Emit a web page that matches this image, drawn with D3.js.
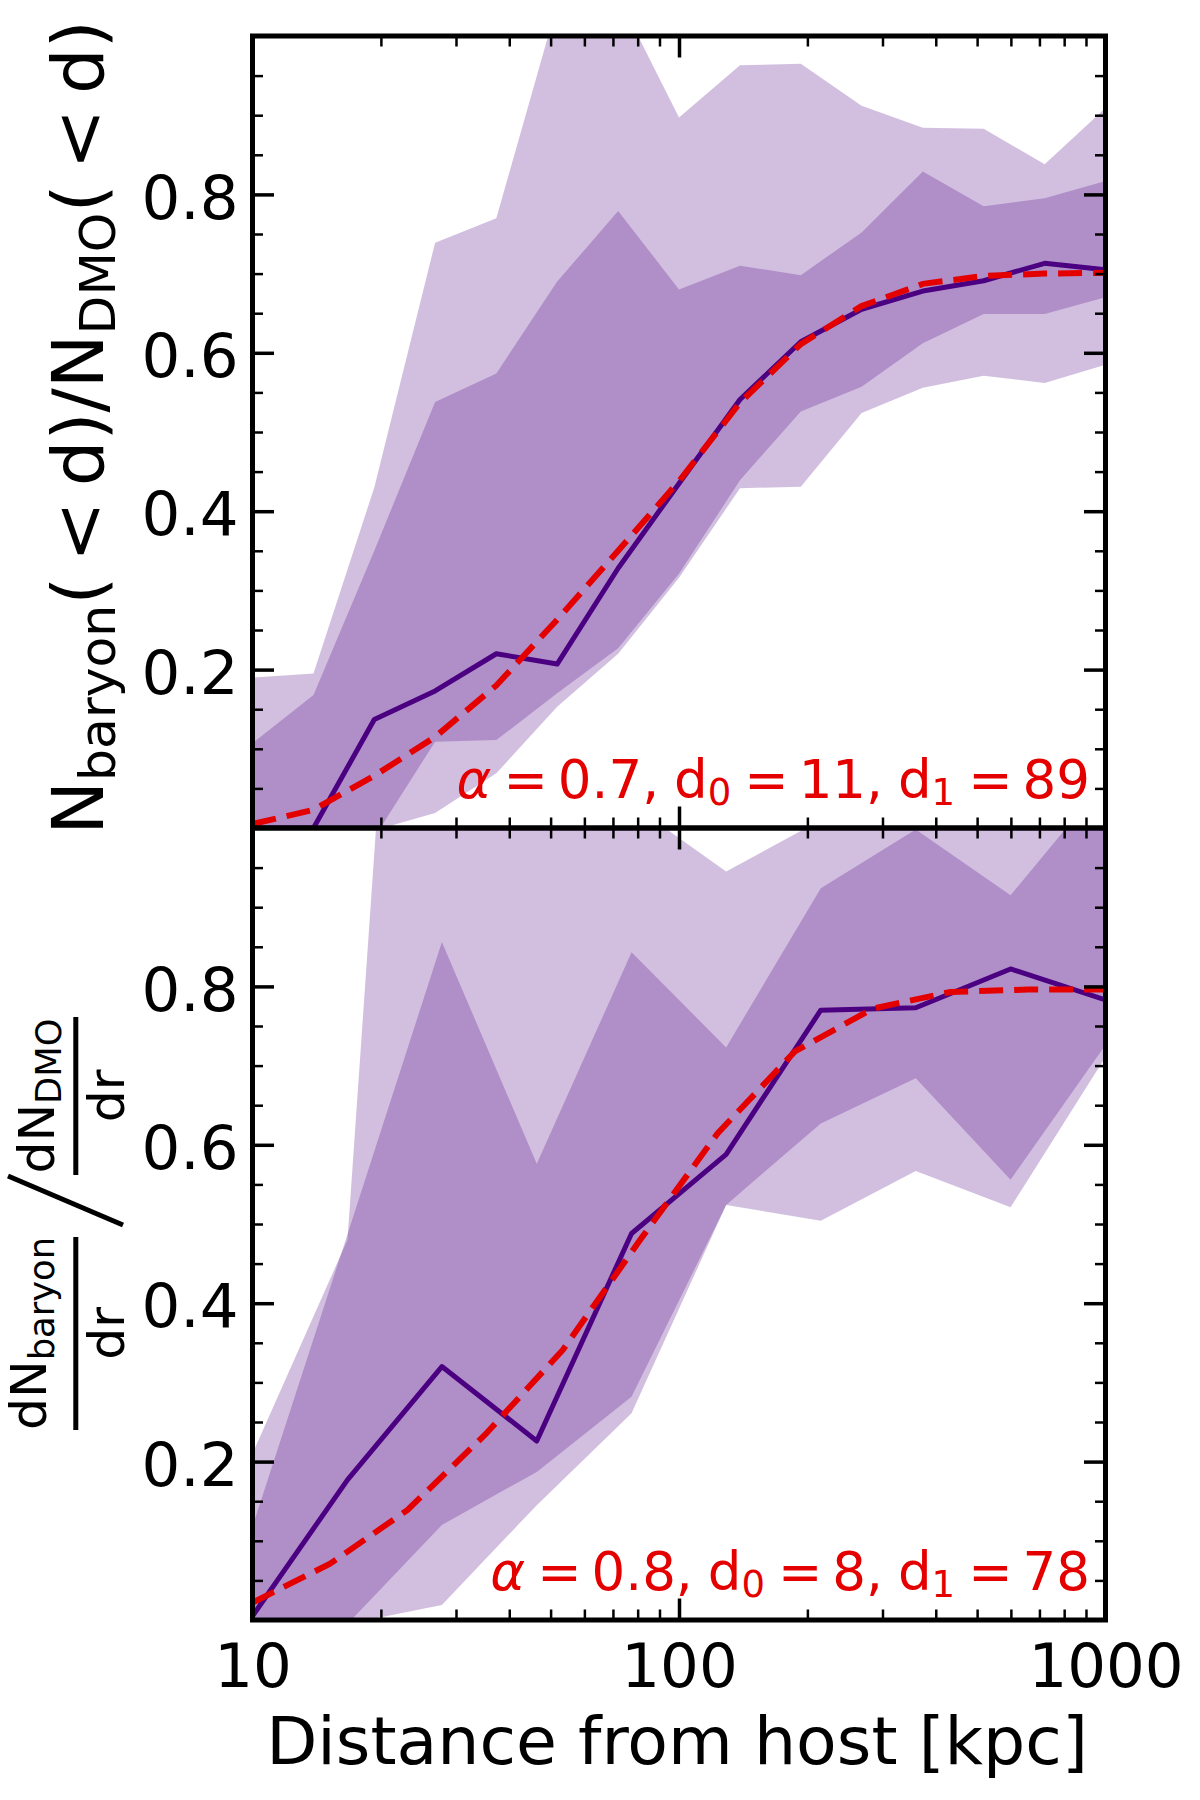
<!DOCTYPE html>
<html>
<head>
<meta charset="utf-8">
<title>baryon / DMO subhalo ratio</title>
<script src="https://cdn.jsdelivr.net/npm/d3@7"></script>
<style>
    body { margin: 0; background: #ffffff; }
    #chart svg { display: block; font-family: "DejaVu Sans", sans-serif; }
</style>
</head>
<body>
<div id="chart"></div>
<script>
//TOP PANEL: cumulative ratio N_baryon(<d) / N_DMO(<d)
const cumDistance = [10, 13.9, 19.3, 26.8, 37.3, 51.8, 72.0, 100, 139, 193, 268, 373, 518, 720, 1000];
const cumMedian = [0, 0, 0.137, 0.173, 0.220, 0.207, 0.328, 0.435, 0.541, 0.614, 0.655, 0.678, 0.691, 0.713, 0.705];
const cumInnerLow = [-0.03, -0.02, -0.012, 0.109, 0.111, 0.170, 0.227, 0.321, 0.439, 0.526, 0.557, 0.612, 0.649, 0.649, 0.670];
const cumInnerHigh = [0.107, 0.168, 0.350, 0.538, 0.574, 0.690, 0.779, 0.680, 0.710, 0.698, 0.752, 0.829, 0.785, 0.795, 0.817];
const cumOuterLow = [-0.1, -0.08, -0.003, 0.019, 0.069, 0.153, 0.220, 0.316, 0.429, 0.431, 0.524, 0.556, 0.571, 0.562, 0.585];
const cumOuterHigh = [0.190, 0.195, 0.430, 0.739, 0.770, 1.04, 1.05, 0.897, 0.963, 0.965, 0.912, 0.884, 0.883, 0.838, 0.909];
const cumFit = [0.005, 0.023, 0.066, 0.115, 0.180, 0.263, 0.350, 0.438, 0.537, 0.611, 0.659, 0.687, 0.697, 0.700, 0.701];
const cumFitParams = ["0.7", "11", "89"]; // alpha, d0, d1

//BOTTOM PANEL: differential ratio dN_baryon/dr / dN_DMO/dr
const diffDistance = [10, 16.7, 27.8, 46.4, 77.4, 129, 215, 359, 599, 1000];
const diffMedian = [0.005, 0.177, 0.320, 0.226, 0.488, 0.588, 0.770, 0.773, 0.822, 0.783];
const diffInnerLow = [-0.2, -0.005, 0.120, 0.187, 0.282, 0.524, 0.627, 0.684, 0.556, 0.726];
const diffInnerHigh = [0.118, 0.487, 0.856, 0.576, 0.843, 0.723, 0.924, 0.998, 0.915, 1.06];
const diffOuterLow = [-0.3, -0.005, 0.019, 0.145, 0.261, 0.524, 0.504, 0.567, 0.521, 0.711];
const diffOuterHigh = [0.210, 0.480, 2.2, 1.15, 1.03, 0.945, 1.01, 1.05, 1.03, 1.10];
const diffFitDistance = [10, 15.2, 23.1, 35.1, 53.4, 81.1, 123, 187, 285, 433, 658, 1000];
const diffFit = [0.022, 0.071, 0.139, 0.234, 0.341, 0.480, 0.614, 0.718, 0.772, 0.793, 0.796, 0.796];
const diffFitParams = ["0.8", "8", "78"];

//TICKS
const xMajorTicks = [10, 100, 1000];
const xMinorTicks = [20, 30, 40, 50, 60, 70, 80, 90, 200, 300, 400, 500, 600, 700, 800, 900];
const yMajorTicks = [0.2, 0.4, 0.6, 0.8];
const yMinorTicks = [0.05, 0.1, 0.15, 0.25, 0.3, 0.35, 0.45, 0.5, 0.55, 0.65, 0.7, 0.75, 0.85, 0.9, 0.95];

const dimensions = {
    width: 1200,
    height: 1800,
    left: 252.5,
    right: 1105.5,
    majorTick: 21.5,
    minorTick: 10.5,
    tickFont: 61,
}
const colors = { band: "#4b0082", median: "#4b0082", fit: "#e50000" }

const xScale = d3.scaleLog()
    .domain([10, 1000])
    .range([dimensions.left, dimensions.right])

const distAccessor = (d) => xScale(d.dist);

class RatioPanel {

    constructor(svg, id, top, bottom, data, showXLabels) {
        this.svg = svg;
        this.id = id;
        this.top = top;
        this.bottom = bottom;
        this.data = data;
        this.showXLabels = showXLabels;
        this.y = d3.scaleLinear().domain([0, 1]).range([bottom, top]);
    }

    render() {
        const y = this.y;
        const data = this.data;
        const rows = data.distance.map((d, i) => ({
            dist: d,
            median: data.median[i],
            innerLow: data.innerLow[i],
            innerHigh: data.innerHigh[i],
            outerLow: data.outerLow[i],
            outerHigh: data.outerHigh[i],
        }))
        const fitRows = data.fitDistance.map((d, i) => ({ dist: d, value: data.fit[i] }))

        //clip everything to the axes box
        const clipId = "clip-" + this.id;
        this.svg.append("clipPath")
            .attr("id", clipId)
            .append("rect")
            .attr("x", dimensions.left)
            .attr("y", this.top)
            .attr("width", dimensions.right - dimensions.left)
            .attr("height", this.bottom - this.top)

        const bounds = this.svg.append("g")
            .attr("clip-path", `url(#${clipId})`)

        //BANDS (same see-through colour twice, overlap gives the darker one)
        const band = (lo, hi) => d3.area()
            .x(distAccessor)
            .y0((d) => y(d[lo]))
            .y1((d) => y(d[hi]))

        bounds.append("path")
            .datum(rows)
            .attr("d", band("outerLow", "outerHigh"))
            .style("fill", colors.band)
            .style("fill-opacity", 0.25)

        bounds.append("path")
            .datum(rows)
            .attr("d", band("innerLow", "innerHigh"))
            .style("fill", colors.band)
            .style("fill-opacity", 0.25)

        //median
        bounds.append("path")
            .datum(rows)
            .attr("d", d3.line().x(distAccessor).y((d) => y(d.median)))
            .style("fill", "none")
            .style("stroke", colors.median)
            .style("stroke-width", 5)
            .style("stroke-linejoin", "round")

        //fit
        bounds.append("path")
            .datum(fitRows)
            .attr("d", d3.line().x(distAccessor).y((d) => y(d.value)))
            .style("fill", "none")
            .style("stroke", colors.fit)
            .style("stroke-width", 6)
            .style("stroke-dasharray", "24,11")

        this.drawAxes();
        this.drawFitLabel();
    }

    drawAxes() {
        const y = this.y;
        const g = this.svg.append("g");
        const addAxis = (axis, tx, ty, width) => {
            const a = g.append("g")
                .attr("transform", `translate(${tx},${ty})`)
                .call(axis)
            a.select(".domain").remove()
            a.selectAll(".tick line")
                .attr("stroke", "#000")
                .attr("stroke-width", width)
            a.attr("font-size", dimensions.tickFont)
                .attr("font-family", "DejaVu Sans")
            a.selectAll("text").attr("fill", "#000")
            return a
        }

        //left
        const left = addAxis(d3.axisLeft(y).tickValues(yMajorTicks).tickSize(-dimensions.majorTick)
            .tickPadding(14).tickFormat(d3.format(".1f")), dimensions.left, 0, 3.5)
        left.selectAll("text").attr("dy", "0.39em")
        addAxis(d3.axisLeft(y).tickValues(yMinorTicks).tickSize(-dimensions.minorTick).tickFormat(""), dimensions.left, 0, 2.5)

        //right
        addAxis(d3.axisRight(y).tickValues(yMajorTicks).tickSize(-dimensions.majorTick).tickFormat(""), dimensions.right, 0, 3.5)
        addAxis(d3.axisRight(y).tickValues(yMinorTicks).tickSize(-dimensions.minorTick).tickFormat(""), dimensions.right, 0, 2.5)

        //top
        addAxis(d3.axisTop(xScale).tickValues(xMajorTicks).tickSize(-dimensions.majorTick).tickFormat(""), 0, this.top, 3.5)
        addAxis(d3.axisTop(xScale).tickValues(xMinorTicks).tickSize(-dimensions.minorTick).tickFormat(""), 0, this.top, 2.5)

        //bottom
        addAxis(d3.axisBottom(xScale).tickValues(xMajorTicks).tickSize(-dimensions.majorTick)
            .tickPadding(23.7).tickFormat(this.showXLabels ? d3.format("d") : ""), 0, this.bottom, 3.5)
        addAxis(d3.axisBottom(xScale).tickValues(xMinorTicks).tickSize(-dimensions.minorTick).tickFormat(""), 0, this.bottom, 2.5)

        //frame
        g.append("rect")
            .attr("x", dimensions.left)
            .attr("y", this.top)
            .attr("width", dimensions.right - dimensions.left)
            .attr("height", this.bottom - this.top)
            .style("fill", "none")
            .style("stroke", "#000")
            .style("stroke-width", 5)
    }

    drawFitLabel() {
        const p = this.data.fitParams;
        const baseline = this.bottom - 0.038 * (this.bottom - this.top);
        const label = this.svg.append("text")
            .attr("x", 1090)
            .attr("y", baseline)
            .attr("text-anchor", "end")
            .attr("font-size", 53)
            .style("fill", colors.fit)
        label.append("tspan").attr("font-style", "italic").text("α")
        label.append("tspan").attr("dx", 12).text("=")
        label.append("tspan").attr("dx", 10).text(p[0] + ",")
        label.append("tspan").attr("dx", 15).text("d")
        label.append("tspan").attr("font-size", 37).attr("dy", 7).text("0")
        label.append("tspan").attr("dx", 13).attr("dy", -7).text("=")
        label.append("tspan").attr("dx", 10).text(p[1] + ",")
        label.append("tspan").attr("dx", 15).text("d")
        label.append("tspan").attr("font-size", 37).attr("dy", 7).text("1")
        label.append("tspan").attr("dx", 13).attr("dy", -7).text("=")
        label.append("tspan").attr("dx", 10).text(p[2])
    }
}

//MAIN wrapper
const wrapper = d3.select("#chart")
    .append("svg")
    .attr("width", dimensions.width)
    .attr("height", dimensions.height)

wrapper.append("rect")
    .attr("width", dimensions.width)
    .attr("height", dimensions.height)
    .style("fill", "#ffffff")

const topPanel = new RatioPanel(wrapper, "cum", 36, 828, {
    distance: cumDistance, median: cumMedian,
    innerLow: cumInnerLow, innerHigh: cumInnerHigh,
    outerLow: cumOuterLow, outerHigh: cumOuterHigh,
    fitDistance: cumDistance, fit: cumFit, fitParams: cumFitParams,
}, false)
topPanel.render()

const bottomPanel = new RatioPanel(wrapper, "diff", 828, 1620, {
    distance: diffDistance, median: diffMedian,
    innerLow: diffInnerLow, innerHigh: diffInnerHigh,
    outerLow: diffOuterLow, outerHigh: diffOuterHigh,
    fitDistance: diffFitDistance, fit: diffFit, fitParams: diffFitParams,
}, true)
bottomPanel.render()

//x label
wrapper.append("text")
    .attr("x", 677)
    .attr("y", 1764)
    .attr("text-anchor", "middle")
    .attr("font-size", 66.5)
    .text("Distance from host [kpc]")

//top y label
const topLabel = wrapper.append("text")
    .attr("transform", "translate(103,427.5) rotate(-90)")
    .attr("text-anchor", "middle")
    .attr("font-size", 72)
topLabel.append("tspan").text("N")
topLabel.append("tspan").attr("font-size", 50.4).attr("dy", 12).text("baryon")
topLabel.append("tspan").attr("dy", -12).text("(")
topLabel.append("tspan").attr("dx", 15).text("<")
topLabel.append("tspan").attr("dx", 15).text("d)/N")
topLabel.append("tspan").attr("font-size", 50.4).attr("dy", 12).text("DMO")
topLabel.append("tspan").attr("dy", -12).text("(")
topLabel.append("tspan").attr("dx", 15).text("<")
topLabel.append("tspan").attr("dx", 15).text("d)")

//bottom y label, two fractions and a big slash, drawn unrotated then turned
const fracLabel = wrapper.append("g")
    .attr("transform", "translate(0,1224) rotate(-90)")
    .attr("font-size", 50.4)

const num1 = fracLabel.append("text").attr("x", -109.5).attr("y", 46).attr("text-anchor", "middle")
num1.append("tspan").text("dN")
num1.append("tspan").attr("font-size", 35.3).attr("dy", 7.7).text("baryon")
fracLabel.append("text").attr("x", -109.5).attr("y", 124).attr("text-anchor", "middle").text("dr")
fracLabel.append("rect").attr("x", -206).attr("y", 73.3).attr("width", 193).attr("height", 5)

fracLabel.append("line")
    .attr("x1", -1).attr("y1", 123)
    .attr("x2", 48).attr("y2", 8)
    .style("stroke", "#000")
    .style("stroke-width", 5)

const num2 = fracLabel.append("text").attr("x", 128).attr("y", 53.7).attr("text-anchor", "middle")
num2.append("tspan").text("dN")
num2.append("tspan").attr("font-size", 35.3).attr("dy", 7.7).text("DMO")
fracLabel.append("text").attr("x", 128).attr("y", 124).attr("text-anchor", "middle").text("dr")
fracLabel.append("rect").attr("x", 49).attr("y", 73.3).attr("width", 158).attr("height", 5)
</script>
</body>
</html>
